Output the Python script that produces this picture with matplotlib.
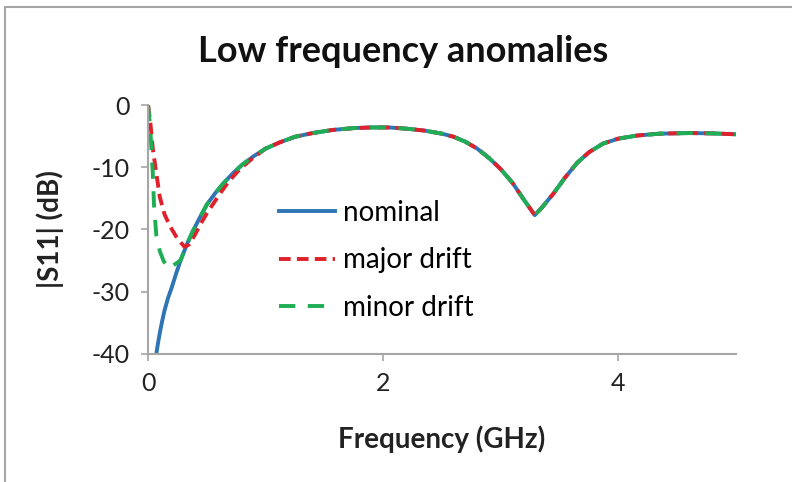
import matplotlib.pyplot as plt
import numpy as np
from matplotlib.patches import Rectangle

plt.rcParams['font.family'] = ['Lato', 'DejaVu Sans']
plt.rcParams['axes.unicode_minus'] = False

# (GHz, dB)
nom_f = [0.07, 0.085, 0.10, 0.12, 0.14, 0.17, 0.20, 0.24, 0.28, 0.33, 0.38, 0.44,
         0.50, 0.57, 0.64, 0.72, 0.80, 0.90, 1.00, 1.12, 1.25, 1.40, 1.57, 1.75,
         1.90, 2.05, 2.20, 2.35, 2.50, 2.60, 2.70, 2.80, 2.90, 3.00, 3.10, 3.20,
         3.29, 3.35, 3.45, 3.55, 3.65, 3.75, 3.87, 4.00, 4.16, 4.35, 4.60, 4.80, 5.00]
nom_db = [-40.0, -38.2, -36.6, -34.7, -33.0, -31.0, -29.4, -27.0, -24.8, -22.4,
          -20.3, -18.1, -16.0, -14.2, -12.6, -11.0, -9.6, -8.2, -7.0, -6.0, -5.1,
          -4.5, -4.0, -3.7, -3.6, -3.6, -3.8, -4.1, -4.6, -5.1, -5.9, -7.0, -8.5,
          -10.3, -12.5, -15.3, -17.7, -16.5, -14.2, -11.6, -9.3, -7.6, -6.2, -5.4,
          -4.9, -4.6, -4.5, -4.55, -4.7]

major_f = [0.0, 0.02, 0.04, 0.07, 0.10, 0.14, 0.19, 0.25, 0.31, 0.35, 0.40, 0.45,
           0.50, 0.56, 0.62, 0.69, 0.78, 0.88, 0.95]
major_db = [0.0, -3.0, -7.0, -11.0, -14.8, -17.6, -19.6, -21.5, -22.8, -22.4,
            -20.8, -19.0, -17.4, -15.7, -14.0, -12.2, -10.3, -8.7, -7.7]

minor_f = [0.0, 0.015, 0.025, 0.04, 0.05, 0.07, 0.10, 0.13, 0.17, 0.22, 0.26]
minor_db = [0.0, -3.0, -6.0, -11.0, -16.0, -21.0, -23.5, -25.0, -26.3, -25.7, -25.2]

nom_f = np.array(nom_f)
nom_db = np.array(nom_db)
maj_x = np.concatenate([major_f, nom_f[nom_f >= 1.0]])
maj_y = np.concatenate([major_db, nom_db[nom_f >= 1.0]])
min_x = np.concatenate([minor_f, nom_f[nom_f >= 0.28]])
min_y = np.concatenate([minor_db, nom_db[nom_f >= 0.28]])

fig = plt.figure(figsize=(7.92, 4.82), dpi=100)
ax = fig.add_axes([0.187, 0.266, 0.742, 0.516])

ax.plot(nom_f, nom_db, color='#2e75b6', lw=2.8, label='nominal')
ax.plot(maj_x, maj_y, color='#e0202a', lw=2.8, dashes=(3.0, 1.6), label='major drift')
ax.plot(min_x, min_y, color='#1fae55', lw=2.8, dashes=(4.2, 3.2), label='minor drift')

ax.set_xlim(0, 5)
ax.set_ylim(-40, 0)
ax.set_xticks([0, 2, 4])
ax.set_yticks([0, -10, -20, -30, -40])
for s in ['top', 'right']:
    ax.spines[s].set_visible(False)
for s in ['left', 'bottom']:
    ax.spines[s].set_color('#a6a6a6')
    ax.spines[s].set_linewidth(1.5)
ax.tick_params(colors='#a6a6a6', labelcolor='#222222', labelsize=18, length=5, width=1.2)
ax.tick_params(axis='x', pad=8)
ax.tick_params(axis='y', pad=8)

fig.text(403 / 792, 1 - 51 / 482, 'Low frequency anomalies', fontsize=26,
         fontweight='bold', color='#111111', ha='center', va='center')
ax.set_xlabel('Frequency (GHz)', fontsize=20, fontweight='bold', labelpad=22, color='#222222')
ax.set_ylabel('|S11| (dB)', fontsize=20, fontweight='bold', labelpad=20, color='#222222')

ax.legend(loc='upper left', bbox_to_anchor=(0.181, 0.72), frameon=False, fontsize=20,
          labelspacing=0.78, handlelength=2.0, handletextpad=0.3)

fig.add_artist(Rectangle((0.0063, -0.1), 1.2, 1.0855, transform=fig.transFigure,
                         fill=False, edgecolor='#a6a6a6', lw=1.5))

fig.savefig('out.png', dpi=100)
